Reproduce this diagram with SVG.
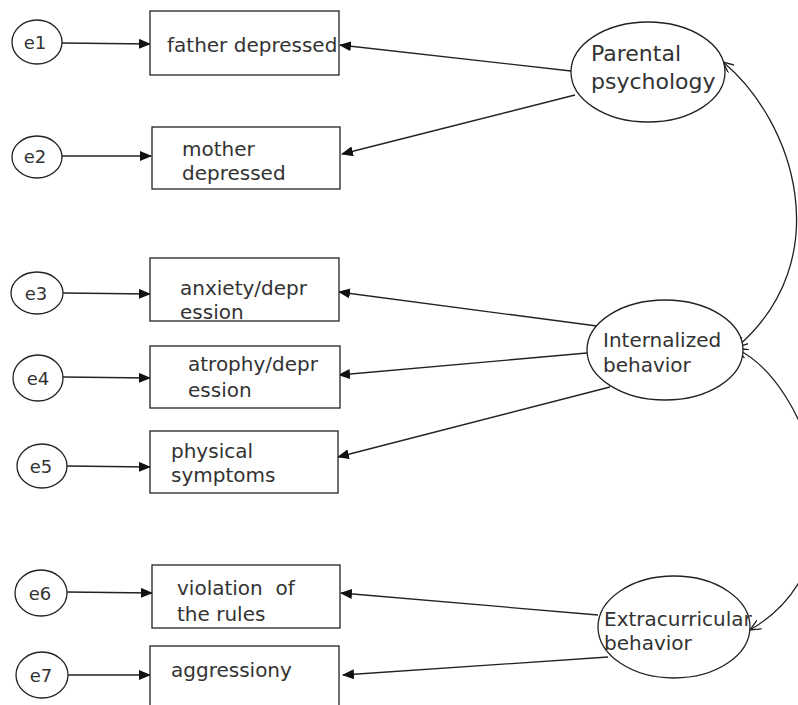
<svg xmlns="http://www.w3.org/2000/svg" width="798" height="705" viewBox="0 0 798 705">
<style>
  .box { fill: #fff; stroke: #222; stroke-width: 1.3; }
  .ell { fill: #fff; stroke: #222; stroke-width: 1.3; }
  .lbl { font-family: "DejaVu Sans", "Noto Sans", sans-serif; font-size: 20px; fill: #333; }
  .elbl { font-family: "DejaVu Sans", "Noto Sans", sans-serif; font-size: 18px; fill: #333; text-anchor: middle; }
  .big { font-size: 22px; }
  .edge { stroke: #222; stroke-width: 1.3; fill: none; marker-end: url(#arrow); }
  .cov { stroke: #222; stroke-width: 1.3; fill: none; marker-start: url(#open); marker-end: url(#open); }
</style>
<defs>
  <marker id="arrow" viewBox="0 0 12 10" refX="11" refY="5" markerWidth="12" markerHeight="10" markerUnits="userSpaceOnUse" orient="auto">
    <path d="M0,0 L12,5 L0,10 z" fill="#111"/>
  </marker>
  <marker id="open" viewBox="0 0 12 10" refX="11" refY="5" markerWidth="12" markerHeight="10" markerUnits="userSpaceOnUse" orient="auto-start-reverse">
    <path d="M0,0 L11,5 L0,10" fill="none" stroke="#222" stroke-width="1.3"/>
  </marker>
</defs>
<rect width="798" height="705" fill="#fff"/>

<g id="connectors">
  <line class="edge" x1="62" y1="43" x2="150" y2="44"/>
  <line class="edge" x1="62" y1="156" x2="151" y2="156"/>
  <line class="edge" x1="63" y1="293" x2="150" y2="294"/>
  <line class="edge" x1="63" y1="377" x2="150" y2="378"/>
  <line class="edge" x1="67" y1="466" x2="150" y2="467"/>
  <line class="edge" x1="67" y1="592" x2="152" y2="593"/>
  <line class="edge" x1="68" y1="675" x2="150" y2="675"/>

  <line class="edge" x1="571" y1="71" x2="340" y2="45"/>
  <line class="edge" x1="575" y1="95" x2="342" y2="154"/>

  <line class="edge" x1="597" y1="326" x2="339" y2="292"/>
  <line class="edge" x1="587" y1="353" x2="339" y2="375"/>
  <line class="edge" x1="610" y1="387" x2="338" y2="457"/>

  <line class="edge" x1="598" y1="615" x2="341" y2="593"/>
  <line class="edge" x1="608" y1="657" x2="343" y2="675"/>

  <path class="cov" d="M723,62 C795,122 838,260 737,347"/>
  <path class="cov" d="M737,349 C810,385 870,560 750,630"/>
</g>

<g id="e1"><ellipse class="ell" cx="37" cy="42" rx="25" ry="22"/><text class="elbl" x="35" y="49">e1</text></g>
<g id="e2"><ellipse class="ell" cx="37" cy="157" rx="25" ry="21"/><text class="elbl" x="35" y="163">e2</text></g>
<g id="e3"><ellipse class="ell" cx="37" cy="293" rx="26" ry="21"/><text class="elbl" x="36" y="300">e3</text></g>
<g id="e4"><ellipse class="ell" cx="38" cy="378" rx="25" ry="23"/><text class="elbl" x="38" y="385">e4</text></g>
<g id="e5"><ellipse class="ell" cx="42" cy="466" rx="25" ry="22"/><text class="elbl" x="41" y="473">e5</text></g>
<g id="e6"><ellipse class="ell" cx="41" cy="593" rx="26" ry="23"/><text class="elbl" x="40" y="600">e6</text></g>
<g id="e7"><ellipse class="ell" cx="42" cy="675" rx="26" ry="23"/><text class="elbl" x="41" y="682">e7</text></g>

<g id="father-depressed"><rect class="box" x="150" y="11" width="189" height="64"/><text class="lbl" x="167" y="52">father depressed</text></g>
<g id="mother-depressed"><rect class="box" x="152" y="127" width="188" height="62"/><text class="lbl" x="182" y="156">mother</text><text class="lbl" x="182" y="180">depressed</text></g>
<g id="anxiety-depression"><rect class="box" x="150" y="258" width="189" height="63"/><text class="lbl" x="180" y="295">anxiety/depr</text><text class="lbl" x="180" y="319">ession</text></g>
<g id="atrophy-depression"><rect class="box" x="150" y="346" width="190" height="62"/><text class="lbl" x="188" y="371">atrophy/depr</text><text class="lbl" x="188" y="397">ession</text></g>
<g id="physical-symptoms"><rect class="box" x="150" y="431" width="188" height="62"/><text class="lbl" x="171" y="458">physical</text><text class="lbl" x="171" y="482">symptoms</text></g>
<g id="violation-rules"><rect class="box" x="152" y="565" width="188" height="63"/><text class="lbl" x="177" y="595" xml:space="preserve">violation  of</text><text class="lbl" x="177" y="621">the rules</text></g>
<g id="aggressiony"><rect class="box" x="150" y="646" width="189" height="70"/><text class="lbl" x="171" y="677">aggressiony</text></g>

<g id="parental-psychology"><ellipse class="ell" cx="648" cy="72" rx="77" ry="50"/><text class="lbl big" x="591" y="61">Parental</text><text class="lbl big" x="591" y="89">psychology</text></g>
<g id="internalized-behavior"><ellipse class="ell" cx="665" cy="350" rx="78" ry="50"/><text class="lbl" x="603" y="347">Internalized</text><text class="lbl" x="603" y="372">behavior</text></g>
<g id="extracurricular-behavior"><ellipse class="ell" cx="674" cy="627" rx="76" ry="51"/><text class="lbl" x="604" y="626">Extracurricular</text><text class="lbl" x="604" y="650">behavior</text></g>
</svg>
